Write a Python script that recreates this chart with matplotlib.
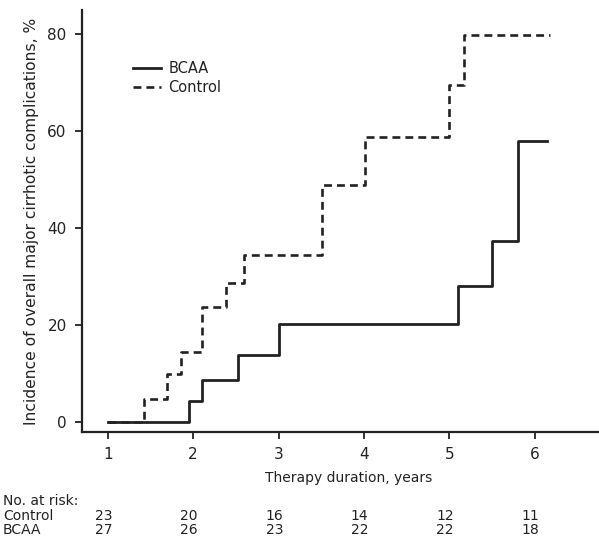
import matplotlib.pyplot as plt
from matplotlib import transforms

# step data (years, cumulative incidence %)
bcaa_t = [1.0, 1.95, 2.11, 2.52, 3.0, 5.10, 5.50, 5.80, 6.14]
bcaa_v = [0, 4.3, 8.7, 13.8, 20.2, 28.0, 37.2, 57.8, 57.8]

ctrl_t = [1.0, 1.42, 1.69, 1.86, 2.10, 2.39, 2.60, 3.51, 4.01, 4.99, 5.17, 6.18]
ctrl_v = [0, 4.8, 9.8, 14.4, 23.6, 28.7, 34.4, 48.8, 58.8, 69.5, 79.8, 79.8]

years = [1, 2, 3, 4, 5, 6]
risk_control = [23, 20, 16, 14, 12, 11]
risk_bcaa = [27, 26, 23, 22, 22, 18]

ink = '#222222'
plt.rcParams['font.family'] = 'DejaVu Sans'
plt.rcParams['font.size'] = 10

fig = plt.figure(figsize=(5.99, 5.41), dpi=100)
ax = fig.add_axes([82 / 599, 1 - 432 / 541, 1 - 82 / 599, 422 / 541])

ax.plot(bcaa_t, bcaa_v, drawstyle='steps-post', color=ink, lw=2.0, label='BCAA')
l2, = ax.plot(ctrl_t, ctrl_v, drawstyle='steps-post', color=ink, lw=1.9, label='Control')
l2.set_dashes([3.0, 1.9])

ax.set_xlim(0.7, 6.75)
ax.set_ylim(-2.1, 84.9)
ax.set_xticks(years)
ax.set_yticks([0, 20, 40, 60, 80])
for s in ['top', 'right']:
    ax.spines[s].set_visible(False)
for s in ['left', 'bottom']:
    ax.spines[s].set_linewidth(1.6)
    ax.spines[s].set_color(ink)
ax.tick_params(direction='out', length=5, width=1.3, colors=ink, labelcolor=ink,
               labelsize=11, pad=6)

ax.set_ylabel('Incidence of overall major cirrhotic complications, %', color=ink,
              fontsize=11.2, labelpad=6)

leg = ax.legend(loc='upper left', bbox_to_anchor=(0.099, 0.88), frameon=False,
                fontsize=10.5, handlelength=1.9, handletextpad=0.5, borderpad=0,
                borderaxespad=0, labelspacing=0.3)
for t in leg.get_texts():
    t.set_color(ink)

# x label and the number-at-risk table, placed in figure pixels
def fy(py):
    return 1 - py / 541

fig.text(349 / 599, fy(478), 'Therapy duration, years', ha='center', va='center', color=ink)
fig.text(3 / 599, fy(501), 'No. at risk:', ha='left', va='center', color=ink)
fig.text(3 / 599, fy(516), 'Control', ha='left', va='center', color=ink)
fig.text(3 / 599, fy(530), 'BCAA', ha='left', va='center', color=ink)

blend = transforms.blended_transform_factory(ax.transData, fig.transFigure)
for x, c, b in zip(years, risk_control, risk_bcaa):
    ax.text(x - 0.05, fy(516), str(c), transform=blend, ha='center', va='center', color=ink, clip_on=False)
    ax.text(x - 0.05, fy(530), str(b), transform=blend, ha='center', va='center', color=ink, clip_on=False)

fig.savefig('out.png', dpi=100)
